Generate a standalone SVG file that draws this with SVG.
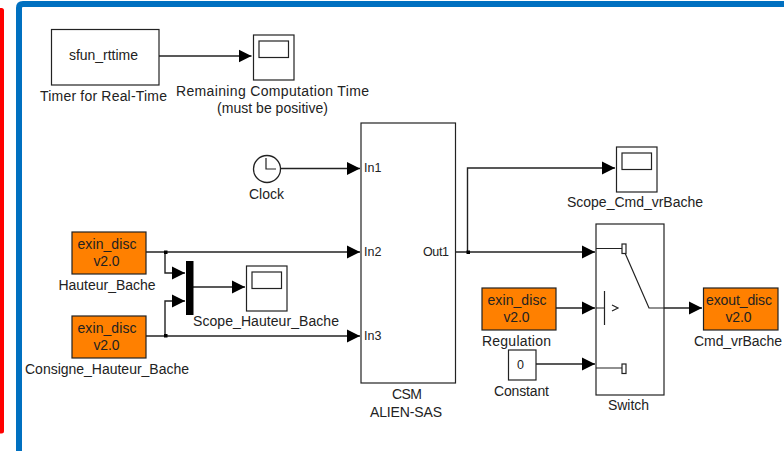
<svg xmlns="http://www.w3.org/2000/svg" width="784" height="451" viewBox="0 0 784 451">
<style>
text{font-family:"Liberation Sans",Arial,sans-serif;font-size:14px;fill:#222;text-anchor:middle}
.b{fill:#fff;stroke:#222;stroke-width:1.2}
.o{fill:#ff8000;stroke:#222;stroke-width:1.2}
.w{fill:none;stroke:#222;stroke-width:1.4}
.t{fill:none;stroke:#222;stroke-width:1.2}
.s{font-size:12.500px}
</style>
<defs>
<marker id="a" markerUnits="userSpaceOnUse" markerWidth="14" markerHeight="14" refX="13" refY="7" orient="auto"><path d="M0 0.5L13 7L0 13.500Z" fill="#000"/></marker>
<g id="scope"><rect class="b" x="0" y="0" width="40.500" height="45"/><rect class="b" x="5.500" y="6" width="29.500" height="16.500"/></g>
</defs>
<rect width="784" height="451" fill="#fff"/>
<path d="M-6 8H1.500Q4 8 4 10.500V431Q4 433.500 1.500 433.500H-6Z" fill="#f00"/>
<path d="M19 451V8Q19 4 23 4H784" fill="none" stroke="#0070c0" stroke-width="6"/>
<g id="connectors">
<path class="w" d="M159 56H251.500" marker-end="url(#a)"/>
<path class="w" d="M281 168.500H360" marker-end="url(#a)"/>
<path class="w" d="M146 252H360" marker-end="url(#a)"/>
<path class="w" d="M146 336H360" marker-end="url(#a)"/>
<path class="w" d="M165 252V273H185" marker-end="url(#a)"/>
<path class="w" d="M165 336V301H185" marker-end="url(#a)"/>
<path class="w" d="M193 287H245" marker-end="url(#a)"/>
<path class="w" d="M455 252H595" marker-end="url(#a)"/>
<path class="w" d="M467.500 252V168H615" marker-end="url(#a)"/>
<path class="w" d="M556 308H595" marker-end="url(#a)"/>
<path class="w" d="M536 364H595" marker-end="url(#a)"/>
<path class="w" d="M649 308H702" marker-end="url(#a)"/>
<rect x="164" y="250.500" width="3.500" height="3.500" fill="#000"/>
<rect x="164" y="334" width="3.500" height="3.500" fill="#000"/>
<rect x="466.500" y="250.500" width="3.500" height="3.500" fill="#000"/>
</g>
<g id="sfun"><rect class="b" x="51.500" y="29.500" width="107.500" height="55.500"/><text x="103.500" y="60" textLength="69">sfun_rttime</text><text x="103.500" y="101" textLength="127">Timer for Real-Time</text></g>
<g id="scope-remaining"><use href="#scope" x="253.500" y="35"/><text x="272.500" y="95.500" textLength="193">Remaining Computation Time</text><text x="272.500" y="113" textLength="111">(must be positive)</text></g>
<g id="clock"><circle cx="267" cy="169" r="13.500" fill="#fff" stroke="#222" stroke-width="1.300"/><path class="t" d="M266 158V169H276"/><text x="266.500" y="199" textLength="35">Clock</text></g>
<g id="csm"><rect class="b" x="361" y="123" width="94.500" height="260"/><text x="364" y="172" class="s" style="text-anchor:start">In1</text><text x="364" y="256" class="s" style="text-anchor:start">In2</text><text x="364" y="340" class="s" style="text-anchor:start">In3</text><text x="449" y="256" class="s" style="text-anchor:end" textLength="26">Out1</text><text x="407" y="399" textLength="30">CSM</text><text x="406" y="417" textLength="72">ALIEN-SAS</text></g>
<g id="hauteur"><rect class="o" x="72" y="232" width="74" height="42"/><text x="107" y="249" textLength="59">exin_disc</text><text x="106.500" y="266" textLength="26">v2.0</text><text x="107" y="290" textLength="97">Hauteur_Bache</text></g>
<g id="consigne"><rect class="o" x="72" y="316" width="74" height="42"/><text x="107" y="333" textLength="59">exin_disc</text><text x="106.500" y="350" textLength="26">v2.0</text><text x="107" y="374" textLength="164">Consigne_Hauteur_Bache</text></g>
<g id="mux"><rect x="186" y="261" width="7.500" height="54" fill="#000"/></g>
<g id="scope-hauteur"><use href="#scope" x="246.500" y="266"/><text x="266" y="326" textLength="146">Scope_Hauteur_Bache</text></g>
<g id="scope-cmd"><use href="#scope" x="616.500" y="147"/><text x="635" y="207" textLength="136">Scope_Cmd_vrBache</text></g>
<g id="regulation"><rect class="o" x="482" y="288" width="74" height="42"/><text x="517" y="304.500" textLength="59">exin_disc</text><text x="516.500" y="322" textLength="26">v2.0</text><text x="516.500" y="346" textLength="69">Regulation</text></g>
<g id="constant"><rect class="b" x="508.500" y="350" width="27.500" height="30"/><text x="520.500" y="368.500" class="s">0</text><text x="521.500" y="396" textLength="55">Constant</text></g>
<g id="switch"><rect class="b" x="596" y="224" width="68" height="171"/><path class="t" d="M596 248.500H622M596 308H604M604.500 291V325M596 368H622M625 253L649 308H664M612 305L618 308L612 311"/><rect class="b" x="622" y="244" width="4" height="9.500"/><rect class="b" x="622" y="364" width="4" height="9.500"/><text x="628.500" y="410" textLength="41">Switch</text></g>
<g id="cmd"><rect class="o" x="703.500" y="288" width="74.500" height="42"/><text x="739" y="304.500" textLength="66">exout_disc</text><text x="738.500" y="322" textLength="26">v2.0</text><text x="738" y="346" textLength="88">Cmd_vrBache</text></g>
</svg>
